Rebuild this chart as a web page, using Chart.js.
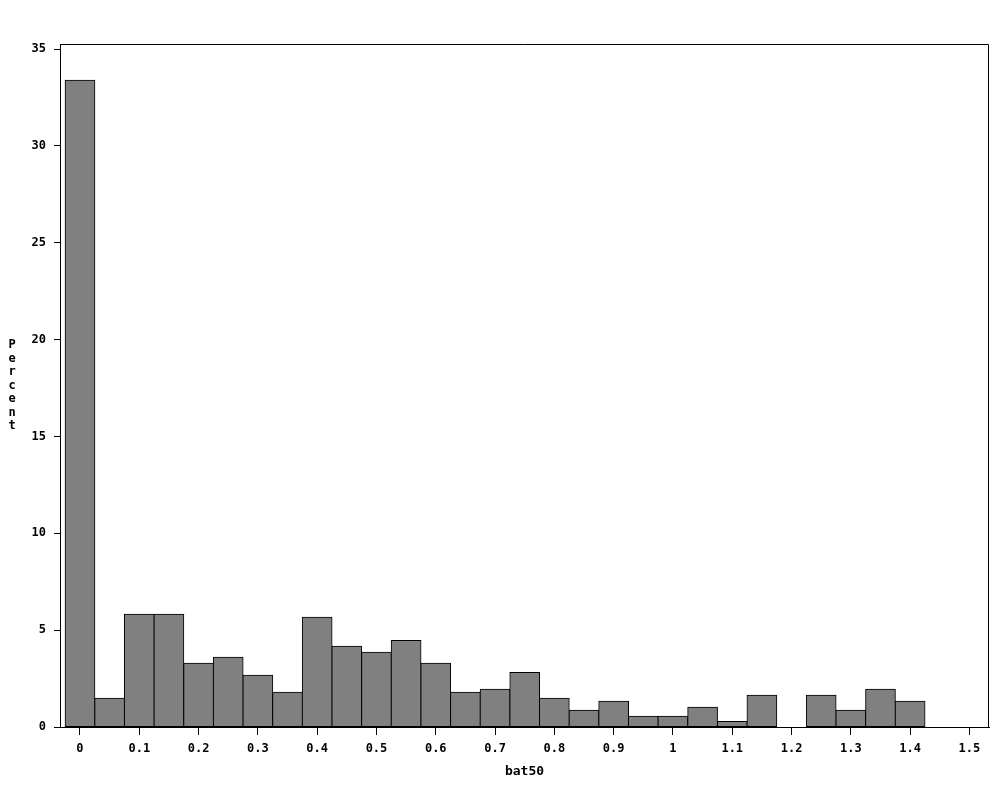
<!DOCTYPE html>
<html>
<head>
<meta charset="utf-8">
<script src="https://cdn.jsdelivr.net/npm/chart.js@4/dist/chart.umd.min.js"></script>
<style>
  html, body { margin: 0; padding: 0; background: #ffffff; }
  #c { display: block; }
</style>
</head>
<body>
<canvas id="c" width="1008" height="806"></canvas>
<script>
// ---- Data ----
const binMidpoints = [0, 0.05, 0.1, 0.15, 0.2, 0.25, 0.3, 0.35, 0.4, 0.45, 0.5, 0.55, 0.6, 0.65, 0.7,
                      0.75, 0.8, 0.85, 0.9, 0.95, 1.0, 1.05, 1.1, 1.15, 1.2, 1.25, 1.3, 1.35, 1.4];
const percentValues = [33.39, 1.48, 5.82, 5.82, 3.29, 3.60, 2.67, 1.79, 5.66, 4.17, 3.86, 4.47, 3.29, 1.79, 1.95,
                       2.82, 1.48, 0.86, 1.33, 0.55, 0.55, 1.02, 0.29, 1.64, 0, 1.64, 0.86, 1.95, 1.33];
const xTickValues = [0, 0.1, 0.2, 0.3, 0.4, 0.5, 0.6, 0.7, 0.8, 0.9, 1.0, 1.1, 1.2, 1.3, 1.4, 1.5];
const xTickLabels = ['0', '0.1', '0.2', '0.3', '0.4', '0.5', '0.6', '0.7', '0.8', '0.9', '1', '1.1', '1.2', '1.3', '1.4', '1.5'];
const yTickValues = [0, 5, 10, 15, 20, 25, 30, 35];
const yTickLabels = ['0', '5', '10', '15', '20', '25', '30', '35'];
const xTitle = 'bat50';
const yTitle = 'Percent';

const FONT = "'DejaVu Sans Mono', 'Liberation Mono', monospace";

const bgPlugin = {
  id: 'bg',
  beforeDraw(chart) {
    const ctx = chart.ctx;
    ctx.save();
    ctx.fillStyle = '#ffffff';
    ctx.fillRect(0, 0, chart.width, chart.height);
    ctx.restore();
  }
};

const framePlugin = {
  id: 'frame',
  afterDraw(chart) {
    const a = chart.chartArea;
    const ctx = chart.ctx;
    ctx.save();
    ctx.strokeStyle = '#000000';
    ctx.lineWidth = 1;
    ctx.beginPath();
    ctx.moveTo(Math.round(a.left) + 0.5, Math.round(a.top) + 0.5);
    ctx.lineTo(Math.round(a.right) - 0.5, Math.round(a.top) + 0.5);
    ctx.lineTo(Math.round(a.right) - 0.5, Math.round(a.bottom) + 0.5);
    ctx.stroke();
    // stacked vertical y-axis title
    ctx.fillStyle = '#000000';
    ctx.font = 'bold 12px ' + FONT;
    ctx.textAlign = 'center';
    ctx.textBaseline = 'middle';
    const step = 13.5;
    const cy = (a.top + a.bottom) / 2;
    const n = yTitle.length;
    for (let i = 0; i < n; i++) {
      ctx.fillText(yTitle[i], 12, cy + (i - (n - 1) / 2) * step);
    }
    ctx.restore();
  }
};

new Chart(document.getElementById('c'), {
  type: 'bar',
  data: {
    datasets: [{
      data: binMidpoints.map((x, i) => ({ x: x, y: percentValues[i] })),
      backgroundColor: '#808080',
      borderColor: '#000000',
      borderWidth: 1,
      borderSkipped: false,
      inflateAmount: 0.5,
      barPercentage: 1.0,
      categoryPercentage: 1.0
    }]
  },
  plugins: [bgPlugin, framePlugin],
  options: {
    responsive: false,
    animation: false,
    devicePixelRatio: 1,
    layout: { padding: { left: 0, top: 44, right: 19, bottom: 0 } },
    plugins: {
      legend: { display: false },
      tooltip: { enabled: false }
    },
    scales: {
      x: {
        type: 'linear',
        min: -0.0337,
        max: 1.533,
        offset: false,
        afterFit(scale) { scale.height = 79; },
        afterBuildTicks(scale) { scale.ticks = xTickValues.map(v => ({ value: v })); },
        grid: { offset: false, drawOnChartArea: false, drawTicks: true, tickLength: 8, color: '#000000', lineWidth: 1 },
        border: { display: true, color: '#000000', width: 1 },
        ticks: {
          autoSkip: false,
          maxRotation: 0,
          padding: 7,
          color: '#000000',
          font: { family: FONT, size: 12, weight: 'bold' },
          callback(value, index) { return xTickLabels[index]; }
        },
        title: {
          display: true,
          text: xTitle,
          color: '#000000',
          font: { family: FONT, size: 13, weight: 'bold' },
          padding: { top: 4, bottom: 27 }
        }
      },
      y: {
        type: 'linear',
        min: 0,
        max: 35.26,
        afterFit(scale) { scale.width = 60; },
        afterBuildTicks(scale) { scale.ticks = yTickValues.map(v => ({ value: v })); },
        grid: { offset: false, drawOnChartArea: false, drawTicks: true, tickLength: 6, color: '#000000', lineWidth: 1 },
        border: { display: true, color: '#000000', width: 1 },
        ticks: {
          autoSkip: false,
          padding: 8,
          color: '#000000',
          font: { family: FONT, size: 12, weight: 'bold' },
          callback(value, index) { return yTickLabels[index]; }
        },
        title: { display: false }
      }
    }
  }
});
</script>
</body>
</html>
